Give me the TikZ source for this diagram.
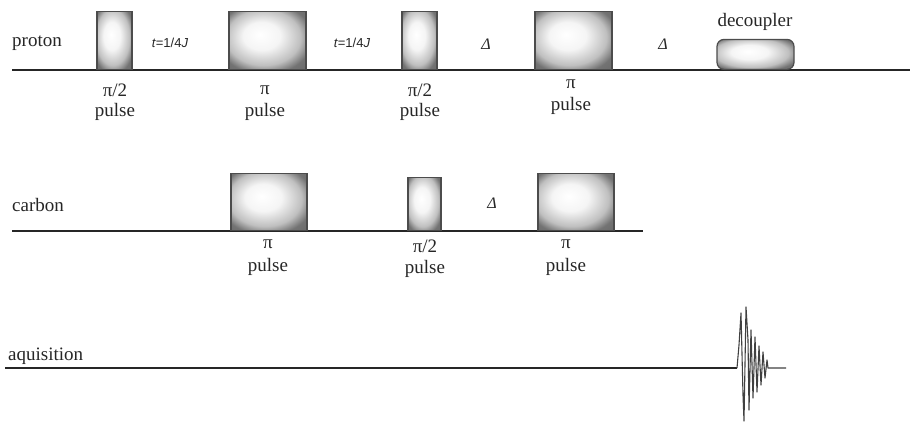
\documentclass[tikz,border=0pt]{standalone}
\usepackage{fontspec}
\setmainfont{Liberation Serif}
\newfontfamily\lsans{Liberation Sans}
\pgfdeclareradialshading{pulseshade}{\pgfpoint{-5bp}{5bp}}{%
  color(0bp)=(white); color(12bp)=(white!96!black); color(24bp)=(black!25);
  color(31bp)=(black!55); color(50bp)=(black!65)}
\begin{document}
\begin{tikzpicture}[x=1pt,y=-1pt,
  pbox/.style={draw=black!70, line width=1.2pt, shading=pulseshade, minimum width=#1, inner sep=0pt, anchor=south},
  axis/.style={line width=1.4pt, black!85},
  lab/.style={font=\fontsize{19}{19}\selectfont, text=black!85, inner sep=0pt},
  tlab/.style={font=\lsans\fontsize{13}{13}\selectfont, text=black!85, inner sep=0pt},
  dlab/.style={font=\fontsize{16}{16}\selectfont\itshape, text=black!85, inner sep=0pt}]
\useasboundingbox (0,0) rectangle (910,423);
% axes
\coordinate (pl) at (12,70); \coordinate (pr) at (910,70);
\coordinate (cl) at (12,231); \coordinate (cr) at (643,231);
\coordinate (al) at (5,368); \coordinate (af) at (737,368); \coordinate (ae) at (786,368);
\draw[axis] (pl) -- (pr);
\draw[axis] (cl) -- (cr);
\draw[axis] (al) -- (af);
% proton boxes
\node[pbox=35pt, minimum height=58pt] (p1) at (114.5,70) {};
\node[pbox=77pt, minimum height=58pt] (p2) at (267.5,70) {};
\node[pbox=35pt, minimum height=58pt] (p3) at (419.5,70) {};
\node[pbox=77pt, minimum height=58pt] (p4) at (573.5,70) {};
\node[pbox=77pt, minimum height=30pt, rounded corners=7pt] (dec) at (755.5,70) {};
% carbon boxes
\node[pbox=76pt, minimum height=57pt] (c1) at (269,231) {};
\node[pbox=33pt, minimum height=53pt] (c2) at (424.5,231) {};
\node[pbox=76pt, minimum height=57pt] (c3) at (576,231) {};
% FID
\draw[line width=1.1pt, black!75, line join=round] (af) -- (739,345) -- (741,313) -- (743,395) -- (744,421) -- (746,307) -- (748,340) -- (749,410) -- (751,330) -- (753,398) -- (755,337) -- (757,392) -- (759,346) -- (761,385) -- (763,352) -- (765,378) -- (767,360) -- (768,368) -- (ae);
% labels
\node[lab, anchor=west] (tp) at (12,43) {proton};
\node[lab, anchor=west] (tc) at (12,205) {carbon};
\node[lab, anchor=west] (ta) at (8,356) {aquisition};
\node[tlab] (t1) at (170,43) {\textit{t}=1/4\textit{J}};
\node[tlab] (t2) at (352,43) {\textit{t}=1/4\textit{J}};
\node[dlab] (d1) at (486,44) {Δ};
\node[dlab] (d2) at (663,44) {Δ};
\node[dlab] (d3) at (492,203) {Δ};
\node[lab] (decl) at (755,22) {decoupler};
% pulse labels
\node[lab] (l1a) at (115,90) {π/2};
\node[lab] (l1b) at (115,112) {pulse};
\node[lab] (l2a) at (265,90) {π};
\node[lab] (l2b) at (265,112) {pulse};
\node[lab] (l3a) at (420,90) {π/2};
\node[lab] (l3b) at (420,112) {pulse};
\node[lab] (l4a) at (571,84) {π};
\node[lab] (l4b) at (571,106) {pulse};
\node[lab] (l5a) at (268,244) {π};
\node[lab] (l5b) at (268,267) {pulse};
\node[lab] (l6a) at (425,246) {π/2};
\node[lab] (l6b) at (425,269) {pulse};
\node[lab] (l7a) at (566,244) {π};
\node[lab] (l7b) at (566,267) {pulse};
\end{tikzpicture}
\end{document}
